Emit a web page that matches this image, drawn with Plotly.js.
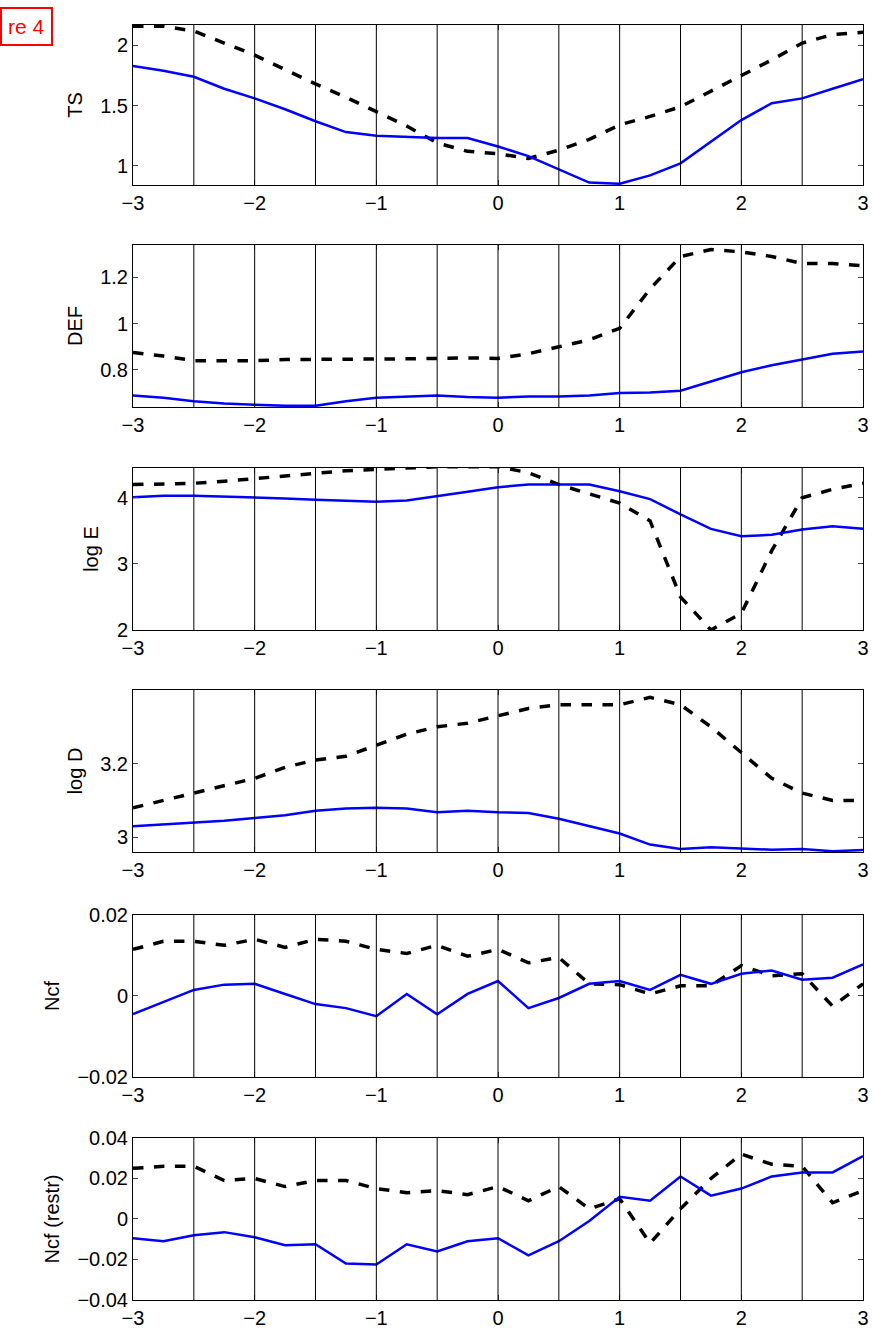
<!DOCTYPE html>
<html>
<head>
<meta charset="utf-8">
<script src="https://cdn.plot.ly/plotly-3.0.1.min.js"></script>
<style>body{margin:0;background:#fff}</style>
</head>
<body>
<div id="plot" style="width:872px;height:1333px"></div>
<script>
// x grid shared by all panels
const xs = [-3,-2.75,-2.5,-2.25,-2,-1.75,-1.5,-1.25,-1,-0.75,-0.5,-0.25,0,0.25,0.5,0.75,1,1.25,1.5,1.75,2,2.25,2.5,2.75,3];
const vlines = [-2.5,-2,-1.5,-1,-0.5,0,0.5,1,1.5,2,2.5];

const tsBlue = [1.83,1.79,1.74,1.64,1.56,1.47,1.37,1.28,1.25,1.24,1.23,1.23,1.16,1.08,0.97,0.86,0.85,0.92,1.02,1.2,1.38,1.52,1.56,1.64,1.72];
const tsBlack = [2.16,2.16,2.12,2.02,1.92,1.8,1.68,1.57,1.45,1.33,1.19,1.12,1.1,1.06,1.13,1.22,1.34,1.41,1.49,1.62,1.75,1.88,2.02,2.09,2.11];

const defBlue = [0.69,0.68,0.665,0.655,0.65,0.645,0.645,0.665,0.68,0.685,0.69,0.683,0.68,0.685,0.685,0.69,0.7,0.703,0.71,0.75,0.79,0.82,0.845,0.87,0.88];
const defBlack = [0.875,0.86,0.84,0.84,0.84,0.845,0.845,0.845,0.845,0.848,0.85,0.852,0.85,0.87,0.9,0.93,0.98,1.15,1.29,1.32,1.31,1.29,1.26,1.26,1.25];

const eBlue = [4.01,4.03,4.03,4.02,4.0,3.99,3.97,3.95,3.94,3.96,4.02,4.09,4.16,4.2,4.2,4.2,4.1,3.98,3.75,3.53,3.42,3.44,3.52,3.57,3.53];
const eBlack = [4.2,4.21,4.22,4.25,4.29,4.33,4.37,4.41,4.43,4.45,4.47,4.47,4.47,4.38,4.2,4.06,3.92,3.65,2.5,2.0,2.25,3.2,4.0,4.13,4.22];

const dBlue = [3.03,3.035,3.038,3.045,3.052,3.06,3.072,3.078,3.08,3.078,3.068,3.072,3.068,3.066,3.05,3.03,3.01,2.98,2.968,2.973,2.97,2.966,2.968,2.962,2.965];
const dBlack = [3.08,3.1,3.12,3.14,3.16,3.19,3.21,3.22,3.25,3.28,3.3,3.31,3.33,3.35,3.36,3.36,3.36,3.38,3.36,3.3,3.23,3.16,3.12,3.1,3.1];

const ncfBlue = [-0.0045,-0.0015,0.0015,0.0028,0.003,0.0005,-0.002,-0.003,-0.005,0.0005,-0.0045,0.0005,0.0037,-0.003,-0.0005,0.003,0.0037,0.0015,0.0052,0.003,0.0055,0.0063,0.004,0.0045,0.0078];
const ncfBlack = [0.0115,0.0135,0.0135,0.0125,0.014,0.012,0.014,0.0135,0.0115,0.0105,0.0125,0.0098,0.0115,0.0082,0.0095,0.003,0.0028,0.0005,0.0025,0.0025,0.0075,0.005,0.0055,-0.0025,0.003];

const rBlue = [-0.0095,-0.011,-0.008,-0.0065,-0.009,-0.013,-0.0125,-0.022,-0.0225,-0.0125,-0.016,-0.011,-0.0095,-0.018,-0.011,-0.001,0.011,0.009,0.021,0.0115,0.015,0.021,0.023,0.023,0.031];
const rBlack = [0.025,0.026,0.026,0.019,0.02,0.016,0.019,0.019,0.015,0.013,0.014,0.012,0.016,0.009,0.016,0.005,0.01,-0.012,0.005,0.02,0.032,0.027,0.026,0.008,0.014];

const panels = [
  {name: "TS", blue: tsBlue, black: tsBlack, range: [0.84, 2.17], ticks: [1, 1.5, 2], dom: [0.8745, 1]},
  {name: "DEF", blue: defBlue, black: defBlack, range: [0.64, 1.34], ticks: [0.8, 1, 1.2], dom: [0.7004, 0.8275]},
  {name: "log E", blue: eBlue, black: eBlack, range: [2, 4.45], ticks: [2, 3, 4], dom: [0.5255, 0.6525]},
  {name: "log D", blue: dBlue, black: dBlack, range: [2.96, 3.40], ticks: [3, 3.2], dom: [0.3514, 0.4784]},
  {name: "Ncf", blue: ncfBlue, black: ncfBlack, range: [-0.02, 0.02], ticks: [-0.02, 0, 0.02], dom: [0.1749, 0.302]},
  {name: "Ncf (restr)", blue: rBlue, black: rBlack, range: [-0.04, 0.04], ticks: [-0.04, -0.02, 0, 0.02, 0.04], dom: [0, 0.1271]}
];

const font = {family: "Liberation Sans, Arial, sans-serif", size: 20, color: "#000"};
const traces = [];
const shapes = [];
const layout = {
  width: 872, height: 1333,
  margin: {l: 133, r: 9, t: 25, b: 33},
  showlegend: false,
  paper_bgcolor: "#fff", plot_bgcolor: "#fff",
  font: font,
  annotations: [{
    xref: "paper", yref: "paper", x: -0.182, y: 1.014, xanchor: "left", yanchor: "top",
    text: "re 4", showarrow: false, font: {family: font.family, size: 21, color: "#ff0000"},
    bordercolor: "#ff0000", borderwidth: 2, borderpad: 6, bgcolor: "#fff"
  }],
  shapes: shapes
};

panels.forEach((p, i) => {
  const n = i + 1;
  const xa = "x" + (n === 1 ? "" : n);
  const ya = "y" + (n === 1 ? "" : n);
  traces.push({x: xs, y: p.black, xaxis: xa, yaxis: ya, mode: "lines",
    line: {color: "#000", width: 3.5, dash: "dash"}});
  traces.push({x: xs, y: p.blue, xaxis: xa, yaxis: ya, mode: "lines",
    line: {color: "#0000ff", width: 2.5}});
  vlines.forEach(v => shapes.push({type: "line", xref: xa, yref: ya + " domain",
    x0: v, x1: v, y0: 0, y1: 1, line: {color: "#000", width: 1}}));
  layout["xaxis" + (n === 1 ? "" : n)] = {
    domain: [0, 1], anchor: ya, range: [-3, 3], tickvals: [-3, -2, -1, 0, 1, 2, 3],
    ticks: "inside", ticklen: 5, showline: true, mirror: "ticks", linecolor: "#000",
    linewidth: 1, showgrid: false, zeroline: false, tickfont: font
  };
  layout["yaxis" + (n === 1 ? "" : n)] = {
    domain: p.dom, anchor: xa, range: p.range, tickvals: p.ticks,
    ticks: "inside", ticklen: 5, showline: true, mirror: "ticks", linecolor: "#000",
    linewidth: 1, showgrid: false, zeroline: false, tickfont: font,
    title: {text: p.name, font: font, standoff: 12}
  };
});

Plotly.newPlot("plot", traces, layout, {displayModeBar: false});
</script>
</body>
</html>
